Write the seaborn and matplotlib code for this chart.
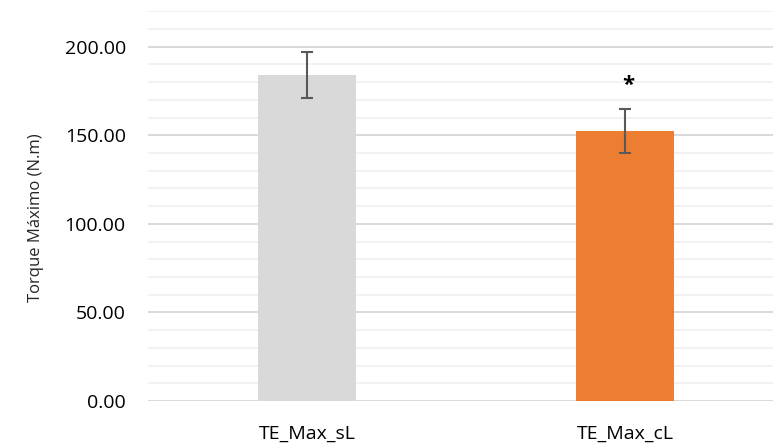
import matplotlib

matplotlib.use("Agg")

import matplotlib.pyplot as plt
import seaborn as sns
from matplotlib.ticker import FormatStrFormatter, MultipleLocator


conditions = ["TE_Max_sL", "TE_Max_cL"]
means = [184.0, 152.3]
errors = [12.8, 12.6]
bar_colors = ["#d9d9d9", "#ed7d31"]
significance = ["", "*"]


def build_chart():
	sns.set_style("white")
	plt.rcParams["font.family"] = ["Open Sans", "DejaVu Sans"]

	fig = plt.figure(figsize=(7.73, 4.46), dpi=100)
	ax = fig.add_axes([0.1915, 0.1009, 0.823, 0.874])

	sns.barplot(x=conditions, y=means, hue=conditions, palette=bar_colors,
				saturation=1, width=0.31, linewidth=0, legend=False, ax=ax, zorder=3)
	ax.errorbar(range(len(conditions)), means, yerr=errors, fmt="none",
				ecolor="#595959", elinewidth=1.5, capsize=4, capthick=1.5, zorder=4)

	# significance marker above the error bar
	for i, mark in enumerate(significance):
		if mark:
			ax.text(i + 0.01, means[i] + errors[i] + 13, mark, ha="center", va="center",
					fontsize=16, fontweight="bold", color="black")

	ax.set_xlim(-0.5, 1.5)
	ax.set_ylim(0, 220)
	ax.yaxis.set_major_locator(MultipleLocator(50))
	ax.yaxis.set_minor_locator(MultipleLocator(10))
	ax.yaxis.set_major_formatter(FormatStrFormatter("%.2f"))
	ax.grid(which="minor", axis="y", color="#f0f0f0", linewidth=1.2, zorder=0)
	ax.grid(which="major", axis="y", color="#d9d9d9", linewidth=1.4, zorder=1)
	ax.set_axisbelow(True)
	for spine in ax.spines.values():
		spine.set_visible(False)

	ax.tick_params(axis="both", which="both", length=0, labelsize=14, colors="#000000")
	ax.tick_params(axis="y", pad=16)
	ax.tick_params(axis="x", pad=17)
	ax.set_ylabel("Torque Máximo (N.m)", fontsize=12, labelpad=18)
	ax.yaxis.set_label_coords(-0.163, 0.47)
	ax.set_xlabel("")

	fig.savefig("out.png", dpi=100)
	plt.close(fig)


if __name__ == "__main__":
	build_chart()
